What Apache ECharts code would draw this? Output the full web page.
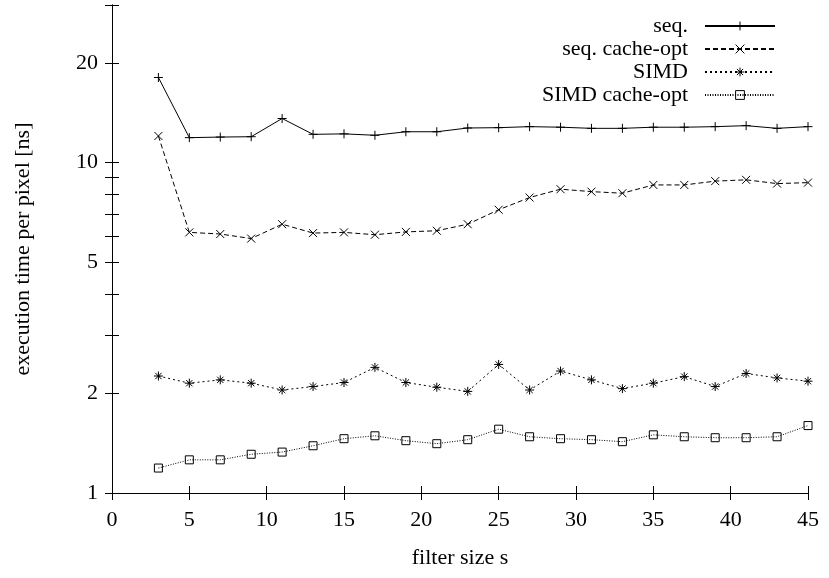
<!DOCTYPE html>
<html>
<head>
<meta charset="utf-8">
<script src="https://cdn.jsdelivr.net/npm/echarts@6/dist/echarts.min.js"></script>
<style>
  html, body { margin: 0; padding: 0; background: #fff; }
  #main { width: 829px; height: 578px; }
</style>
</head>
<body>
<div id="main"></div>
<script>
const filterSizes = [3, 5, 7, 9, 11, 13, 15, 17, 19, 21, 23, 25, 27, 29, 31, 33, 35, 37, 39, 41, 43, 45];
const seqTimes = [18.1, 11.9, 11.95, 11.98, 13.6, 12.18, 12.22, 12.1, 12.4, 12.4, 12.73, 12.76, 12.85, 12.8, 12.7, 12.7, 12.8, 12.8, 12.85, 12.94, 12.7, 12.85];
const seqCacheTimes = [12.04, 6.15, 6.08, 5.89, 6.51, 6.12, 6.15, 6.05, 6.17, 6.22, 6.51, 7.2, 7.84, 8.31, 8.17, 8.08, 8.56, 8.56, 8.79, 8.87, 8.64, 8.7];
const simdTimes = [2.26, 2.15, 2.2, 2.15, 2.05, 2.1, 2.16, 2.4, 2.16, 2.09, 2.03, 2.45, 2.05, 2.34, 2.2, 2.07, 2.15, 2.25, 2.1, 2.3, 2.23, 2.18];
const simdCacheTimes = [1.19, 1.26, 1.26, 1.31, 1.33, 1.39, 1.46, 1.49, 1.44, 1.41, 1.45, 1.56, 1.48, 1.46, 1.45, 1.43, 1.5, 1.48, 1.47, 1.47, 1.48, 1.6];

const yTickValues = [1, 2, 3, 4, 5, 6, 7, 8, 9, 10, 20, 30];
const yLabelValues = [1, 2, 5, 10, 20];
const yMax = 30;

const font = 'Liberation Serif';
const fontSize = 22;
const chart = echarts.init(document.getElementById('main'));

// gnuplot style markers
const plusMark = 'path://M0,5L10,5M5,0L5,10';
const crossMark = 'path://M0,0L10,10M10,0L0,10';
const starMark = 'path://M0,5L10,5M5,0L5,10M1.5,1.5L8.5,8.5M8.5,1.5L1.5,8.5';
const boxMark = 'path://M0,0L10,0L10,10L0,10Z';

function toLog(values) {
	return filterSizes.map((s, i) => [s, Math.log10(values[i])]);
}

function makeSeries(name, values, symbol, size, dash) {
	return {
		name: name,
		type: 'line',
		data: toLog(values),
		symbol: symbol,
		symbolSize: size,
		lineStyle: { color: '#000', width: 1, type: dash },
		itemStyle: { color: 'transparent', borderColor: '#000', borderWidth: 1 },
		emphasis: { disabled: true },
		z: 3
	};
}

const axisLine = { show: true, lineStyle: { color: '#000', width: 1 } };
const textStyle = { fontFamily: font, fontSize: fontSize, color: '#000' };

chart.setOption({
	animation: false,
	grid: { left: 112, right: 21, top: 5, bottom: 85 },
	legend: {
		orient: 'vertical',
		align: 'right',
		right: 48,
		top: 10,
		itemWidth: 70,
		itemHeight: 11,
		itemGap: 1,
		textStyle: Object.assign({ padding: [0, 12, 0, 0] }, textStyle),
		itemStyle: { borderColor: '#000', borderWidth: 1 },
		data: ['seq.', 'seq. cache-opt', 'SIMD', 'SIMD cache-opt']
	},
	xAxis: [
		{
			type: 'value', min: 0, max: 45, interval: 5,
			name: 'filter size s', nameLocation: 'middle', nameGap: 54,
			nameTextStyle: textStyle,
			axisLine: axisLine,
			axisTick: { inside: true, length: 7, lineStyle: { color: '#000' } },
			axisLabel: Object.assign({ margin: 16 }, textStyle),
			splitLine: { show: false }
		},
		{
			type: 'value', position: 'top', min: 0, max: 45, interval: 5,
			axisLine: axisLine,
			axisTick: { inside: true, length: 7, lineStyle: { color: '#000' } },
			axisLabel: { show: false },
			splitLine: { show: false }
		}
	],
	yAxis: [
		{
			type: 'value', min: 0, max: Math.log10(yMax),
			name: 'execution time per pixel [ns]', nameLocation: 'middle', nameGap: 78,
			nameTextStyle: textStyle,
			axisLine: axisLine,
			axisTick: { inside: true, length: 7, lineStyle: { color: '#000' }, customValues: yTickValues.map(Math.log10) },
			axisLabel: Object.assign({
				margin: 14,
				customValues: yLabelValues.map(Math.log10),
				formatter: v => String(Math.round(Math.pow(10, v)))
			}, textStyle),
			splitLine: { show: false }
		},
		{
			type: 'value', position: 'right', min: 0, max: Math.log10(yMax),
			axisLine: axisLine,
			axisTick: { inside: true, length: 7, lineStyle: { color: '#000' }, customValues: yTickValues.map(Math.log10) },
			axisLabel: { show: false },
			splitLine: { show: false }
		}
	],
	series: [
		makeSeries('seq.', seqTimes, plusMark, 9, 'solid'),
		makeSeries('seq. cache-opt', seqCacheTimes, crossMark, 8, [5, 3]),
		makeSeries('SIMD', simdTimes, starMark, 9, [2, 3]),
		makeSeries('SIMD cache-opt', simdCacheTimes, boxMark, 8, [1, 1.5])
	]
});

window.addEventListener('resize', () => {
	chart.resize();
});
</script>
</body>
</html>
